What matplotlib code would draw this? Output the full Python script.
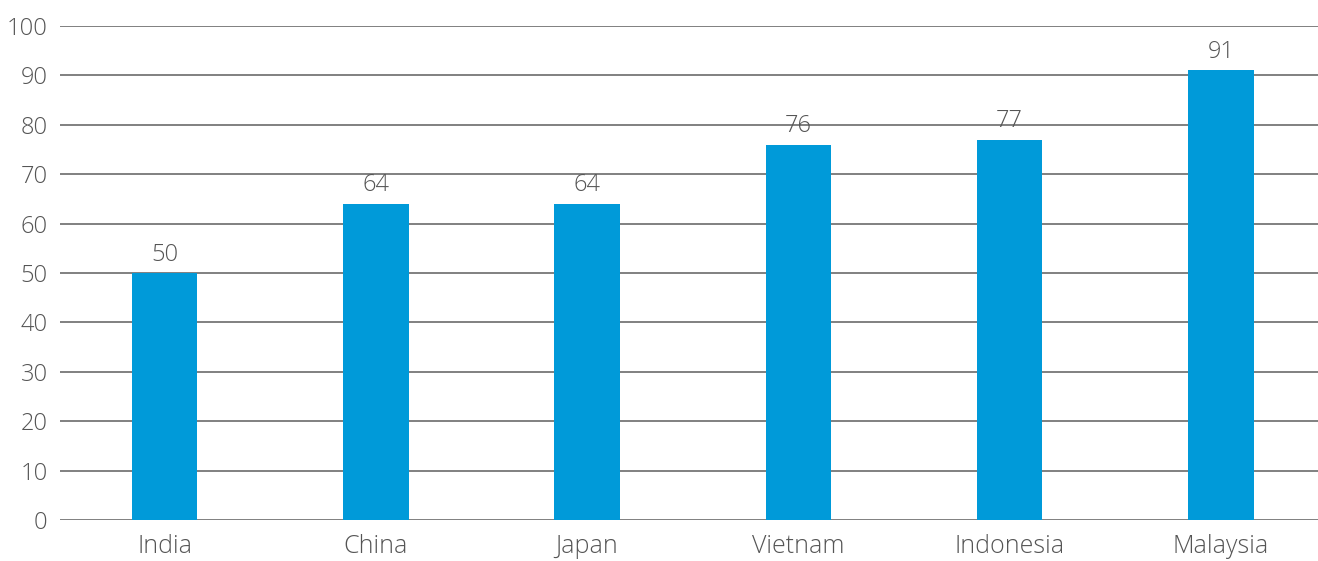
import matplotlib.pyplot as plt
import numpy as np

countries = ["India", "China", "Japan", "Vietnam", "Indonesia", "Malaysia"]
values = [50, 64, 64, 76, 77, 91]
yticks = [0, 10, 20, 30, 40, 50, 60, 70, 80, 90, 100]

bar_color = "#009ad9"
text_color = "#555555"
grid_color = "#6b6b6b"

plt.rcParams['font.family'] = ['Open Sans', 'DejaVu Sans']

fig = plt.figure(figsize=(13.18, 5.61), dpi=100)
ax = fig.add_axes([60 / 1318, 1 - 520 / 561, 1258 / 1318, 494 / 561])

x = np.arange(len(countries))
bars = ax.bar(x, values, width=0.31, color=bar_color, zorder=3)

for xi, v in zip(x, values):
    ax.text(xi, v + 1.3, str(v), ha="center", va="bottom",
            fontsize=17, fontweight="light", color=text_color)

ax.set_xlim(-0.495, 5.46)
ax.set_ylim(0, 100)
ax.set_yticks(yticks)
ax.set_xticks(x)
ax.set_xticklabels(countries, fontsize=18)
ax.grid(axis="y", color=grid_color, linewidth=1.2, zorder=0)
ax.tick_params(axis="both", length=0, labelcolor=text_color)
ax.tick_params(axis="y", pad=9, labelsize=17)
ax.tick_params(axis="x", pad=10)
for lbl in ax.get_xticklabels() + ax.get_yticklabels():
    lbl.set_fontweight("light")
for s in ax.spines.values():
    s.set_visible(False)

fig.savefig("out.png", dpi=100)
